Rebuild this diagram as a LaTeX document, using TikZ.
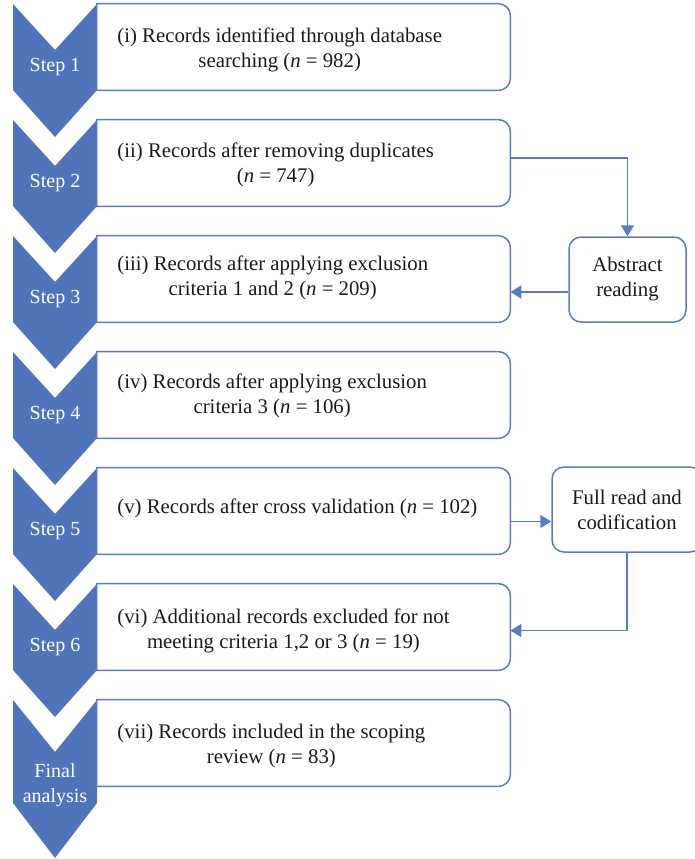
\documentclass[tikz,border=0pt]{standalone}
\usepackage{fontspec}
\setmainfont{Liberation Serif}
\usetikzlibrary{arrows.meta}
\definecolor{chev}{RGB}{79,116,186}
\definecolor{edge}{RGB}{86,124,196}
\definecolor{ink}{RGB}{26,26,26}
\newcommand\rightroundbox[1]{%
  \draw[boxline] (#1.north west) -- ([xshift=-6pt]#1.north east)
    arc[start angle=90,end angle=0,radius=6pt]
    -- ([yshift=6pt]#1.south east)
    arc[start angle=0,end angle=-90,radius=6pt]
    -- (#1.south west) -- cycle;}
\begin{document}
\begin{tikzpicture}[x=0.5pt,y=-0.5pt,
  chevshape/.style={fill=chev,draw=none},
  boxline/.style={draw=edge,line width=0.75pt},
  frame/.style={draw=none,inner sep=0pt,minimum width=206.5pt,minimum height=43pt},
  boxtext/.style={font=\fontsize{10.4pt}{12.5pt}\selectfont,text=ink,align=center,inner sep=0pt,anchor=west},
  steplabel/.style={font=\fontsize{10pt}{12.5pt}\selectfont,text=white,align=center,inner sep=0pt},
  sidebox/.style={draw=edge,line width=0.75pt,rounded corners=6pt,fill=white,inner sep=0pt,
    font=\fontsize{10.4pt}{12.5pt}\selectfont,text=ink,align=center,minimum height=42.5pt},
  conn/.style={draw=edge,line width=0.9pt,-{Triangle[length=5.5pt,width=6.5pt]}}]
\useasboundingbox (0,0) rectangle (695,859);
\clip (0,0) rectangle (695,859);
% chevrons
\foreach \t in {4,120,236,352,468,584}{
  \path[chevshape] (13,\t) -- (55,\t+46) -- (97,\t) -- (97,\t+86) -- (55,\t+133) -- (13,\t+86) -- cycle;
}
\path[chevshape] (13,700) -- (55,752) -- (97,700) -- (97,803) -- (55,858) -- (13,803) -- cycle;
% step labels
\node[steplabel] (s1) at (55,67) {Step 1};
\node[steplabel] (s2) at (55,183) {Step 2};
\node[steplabel] (s3) at (55,299) {Step 3};
\node[steplabel] (s4) at (55,415) {Step 4};
\node[steplabel] (s5) at (55,531) {Step 5};
\node[steplabel] (s6) at (55,647) {Step 6};
\node[steplabel] (s7) at (55,785) {Final\\analysis};
% boxes
\node[frame] (b1) at (303.5,47) {};
\node[frame] (b2) at (303.5,163) {};
\node[frame] (b3) at (303.5,279) {};
\node[frame] (b4) at (303.5,395) {};
\node[frame] (b5) at (303.5,511) {};
\node[frame] (b6) at (303.5,627) {};
\node[frame] (b7) at (303.5,743) {};
\foreach \b in {b1,b2,b3,b4,b5,b6,b7}{\rightroundbox{\b}}
% box texts
\node[boxtext] (t1) at (117,50) {(i) Records identified through database\\searching (\textit{n} = 982)};
\node[boxtext] (t2) at (117,165) {(ii) Records after removing duplicates\\(\textit{n} = 747)};
\node[boxtext] (t3) at (117,278) {(iii) Records after applying exclusion\\criteria 1 and 2 (\textit{n} = 209)};
\node[boxtext] (t4) at (117,396) {(iv) Records after applying exclusion\\criteria 3 (\textit{n} = 106)};
\node[boxtext] (t5) at (117,508) {(v) Records after cross validation (\textit{n} = 102)};
\node[boxtext] (t6) at (117,631) {(vi) Additional records excluded for not\\meeting criteria 1,2 or 3 (\textit{n} = 19)};
\node[boxtext] (t7) at (117,746) {(vii) Records included in the scoping\\review (\textit{n} = 83)};
% side boxes
\node[sidebox,minimum width=58.5pt] (abs) at (627.5,279.5) {Abstract\\reading};
\node[sidebox,minimum width=75pt] (full) at (627,509.5) {Full read and\\codification};
% connectors
\draw[conn] ([yshift=2.5pt]b2.east) -| (abs.north);
\draw[conn] ([yshift=-6.25pt]abs.west) -- ([yshift=-6.25pt]abs.west -| b3.east);
\draw[conn] ([yshift=-5.25pt]b5.east) -- ([yshift=-5.25pt]b5.east -| full.west);
\coordinate (b6in) at ([yshift=-1.75pt]b6.east);
\draw[conn] (full.south) |- (b6in);
\end{tikzpicture}
\end{document}
